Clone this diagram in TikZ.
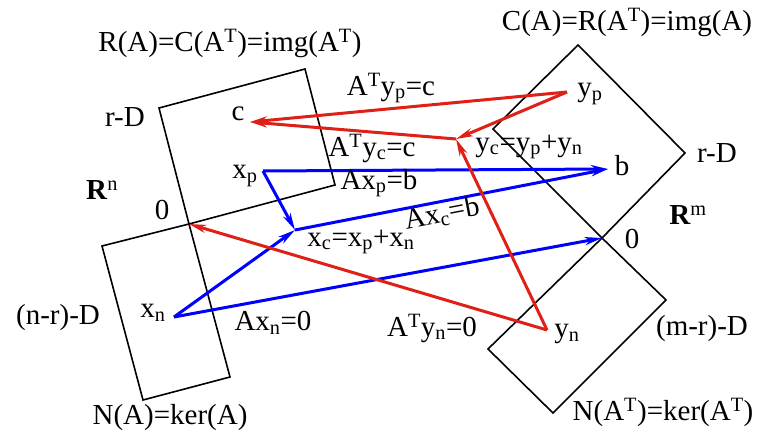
\documentclass[tikz,border=0pt]{standalone}
\usepackage{fontspec}
\setmainfont{Liberation Serif}
\usetikzlibrary{arrows.meta}
\definecolor{vecred}{RGB}{222,32,22}
\definecolor{vecblue}{RGB}{0,0,255}

\begin{document}
\begin{tikzpicture}[x=1pt, y=-1pt, draw=black,
  every node/.style={font=\fontsize{29}{31}\selectfont, inner sep=0pt},
  plane/.style={line width=1.6pt},
  redvec/.style={vecred, line width=3pt, -{Stealth[length=17pt,width=8pt,inset=5pt]}},
  bluevec/.style={vecblue, line width=3pt, -{Stealth[length=17pt,width=8pt,inset=5pt]}}]

\useasboundingbox (0,0) rectangle (782,444);

% origins of R^n and R^m
\coordinate (o1) at (189,224);
\coordinate (o2) at (602,238);

% R^n: row space and null space
\draw[plane] (o1) -- (159,108) -- (305,69) -- (335,185) -- cycle;
\draw[plane] (o1) -- (102,246) -- (143,400) -- (230,377) -- cycle;

% R^m: column space and left null space
\draw[plane] (o2) -- (493,129) -- (578,45) -- (685,153) -- cycle;
\draw[plane] (o2) -- (666,300) -- (553,413) -- (488,349) -- cycle;

% vector ends
\coordinate (c) at (250,122);
\coordinate (xp) at (263,171);
\coordinate (xc) at (295,230);
\coordinate (xn) at (174,317);
\coordinate (b) at (608,169);
\coordinate (yp) at (567,92);
\coordinate (yc) at (456,139);
\coordinate (yn) at (547,330);

% names of the subspaces
\node (rowname) at (230,43) {R(A)=C(A\textsuperscript{T})=img(A\textsuperscript{T})};
\node (colname) at (627,22) {C(A)=R(A\textsuperscript{T})=img(A)};
\node (nullname) at (170,418) {N(A)=ker(A)};
\node (lnullname) at (663,412) {N(A\textsuperscript{T})=ker(A\textsuperscript{T})};
\node (rowdim) at (125,117) {r-D};
\node (coldim) at (717,153) {r-D};
\node (nulldim) at (58,318) {(n-r)-D};
\node (lnulldim) at (702,329) {(m-r)-D};
\node (rn) at (102,190) {\textbf{R}\textsuperscript{n}};
\node (rm) at (688,215) {\textbf{R}\textsuperscript{m}};
\node (zeroleft) at (162,210) {0};
\node (zeroright) at (632,239) {0};

% names of the vectors
\node (clabel) at (238,114) {c};
\node (xplabel) at (245,176) {x\textsubscript{p}};
\node (xclabel) at (361,242) {x\textsubscript{c}=x\textsubscript{p}+x\textsubscript{n}};
\node (xnlabel) at (153,313) {x\textsubscript{n}};
\node (blabel) at (622,166) {b};
\node (yplabel) at (590,94) {y\textsubscript{p}};
\node (yclabel) at (529,147) {y\textsubscript{c}=y\textsubscript{p}+y\textsubscript{n}};
\node (ynlabel) at (567,334) {y\textsubscript{n}};

% blue: A maps R^n to R^m
\draw[bluevec] (xp) -- (b);
\draw[bluevec] (xc) -- (b);
\draw[bluevec] (xp) -- (xc);
\draw[bluevec] (xn) -- (xc);
\draw[bluevec] (xn) -- (o2);

% red: A^T maps R^m to R^n
\draw[redvec] (yp) -- (c);
\draw[redvec] (yc) -- (c);
\draw[redvec] (yp) -- (yc);
\draw[redvec] (yn) -- (yc);
\draw[redvec] (yn) -- (o1);

% names of the maps
\node (mapyp) at (391,88) {A\textsuperscript{T}y\textsubscript{p}=c};
\node (mapyc) at (372,148) {A\textsuperscript{T}y\textsubscript{c}=c};
\node (mapxp) at (379,183) {Ax\textsubscript{p}=b};
\node[rotate=11] (mapxc) at (442,214) {Ax\textsubscript{c}=b};
\node (mapxn) at (273,323) {Ax\textsubscript{n}=0};
\node (mapyn) at (432,328) {A\textsuperscript{T}y\textsubscript{n}=0};
\end{tikzpicture}
\end{document}
